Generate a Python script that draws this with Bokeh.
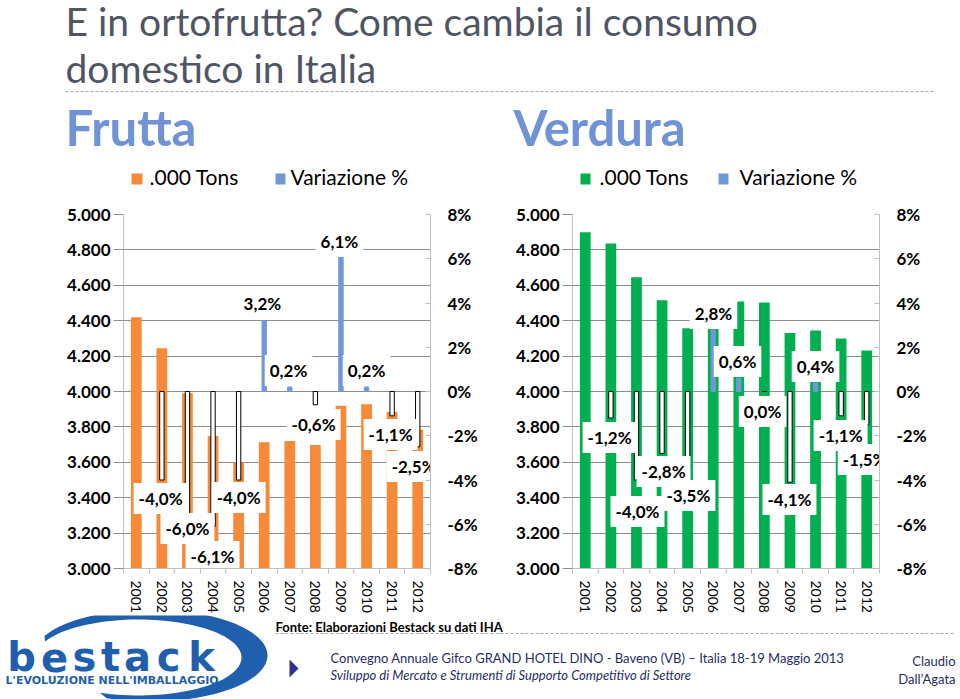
import numpy as np
from bokeh.plotting import figure
from bokeh.models import Range1d, LinearAxis, FixedTicker, ColumnDataSource, Grid
from bokeh.layouts import column, row
from bokeh.embed import file_html
from bokeh.resources import INLINE
from bokeh.core.properties import value

# ---------------- data ----------------
years = ["2001", "2002", "2003", "2004", "2005", "2006",
         "2007", "2008", "2009", "2010", "2011", "2012"]
frutta_tons = [4420, 4245, 3990, 3748, 3598, 3713, 3720, 3698, 3920, 3928, 3885, 3785]
frutta_pct = [None, -4.0, -6.0, -6.1, -4.0, 3.2, 0.2, -0.6, 6.1, 0.2, -1.1, -2.5]
verdura_tons = [4900, 4836, 4645, 4515, 4357, 4367, 4508, 4503, 4330, 4345, 4300, 4232]
verdura_pct = [None, -1.2, -4.0, -2.8, -3.5, 2.8, 0.6, 0.0, -4.1, 0.4, -1.1, -1.5]

tons_ticks = [3000, 3200, 3400, 3600, 3800, 4000, 4200, 4400, 4600, 4800, 5000]
tons_tick_labels = ["3.000", "3.200", "3.400", "3.600", "3.800", "4.000",
                    "4.200", "4.400", "4.600", "4.800", "5.000"]
pct_ticks = [-8, -6, -4, -2, 0, 2, 4, 6, 8]
pct_tick_labels = ["-8%", "-6%", "-4%", "-2%", "0%", "2%", "4%", "6%", "8%"]

# data-label placement (secondary-axis units / category offsets)
frutta_lbl_dx = [0, -0.05, 0.0, -0.02, 0.0, -0.07, -0.05, -0.07, -0.06, 0.0, -0.06, -0.16]
frutta_lbl_y = [None, -4.84, -6.19, -7.46, -4.79, 3.98, 0.95, -1.49, 6.78, 0.95, -1.94, -3.39]
verdura_lbl_dx = [0, -0.05, 0.04, 0.06, 0.03, 0.01, -0.05, -0.07, -0.02, 0.0, -0.02, -0.08]
verdura_lbl_y = [None, -2.08, -5.42, -3.62, -4.70, 3.53, 1.36, -0.90, -4.88, 1.13, -1.99, -3.07]

# ---------------- styles ----------------
FONT = "Lato"
GRID = "#8c8c8c"
AXIS = "#bfbfbf"
ORANGE = "#F68A38"
GREEN = "#00B050"
BLUE = "#7097D8"
TITLE_BLUE = "#6F93D6"


def fmt_pct(v):
    return ("%.1f%%" % v).replace(".", ",")


def chart(tons, pct, lbl_dx, lbl_y, bar_color, b_left, b_right):
    p = figure(width=480, height=420, x_range=Range1d(-0.5, 11.5),
               y_range=Range1d(3000, 5000), output_backend="svg", title=None,
               toolbar_location=None, x_axis_location=None, y_axis_location=None,
               min_border_left=b_left, min_border_right=b_right,
               min_border_top=19, min_border_bottom=47,
               outline_line_color=None, border_fill_color="white",
               background_fill_color="white")
    p.extra_y_ranges = {"pct": Range1d(-8, 8)}
    p.center = [r for r in p.center if not isinstance(r, Grid)]
    p.add_layout(Grid(dimension=1, ticker=FixedTicker(ticks=tons_ticks),
                      grid_line_color=GRID, grid_line_width=1))

    yl = LinearAxis(ticker=FixedTicker(ticks=tons_ticks),
                    major_label_overrides=dict(zip(tons_ticks, tons_tick_labels)),
                    axis_line_color=AXIS, major_tick_line_color=GRID,
                    major_tick_out=10, major_tick_in=0, minor_tick_line_color=None,
                    major_label_standoff=3, major_label_text_font=FONT,
                    major_label_text_font_style="bold",
                    major_label_text_font_size="17px", major_label_text_color="black")
    p.add_layout(yl, "left")

    yr = LinearAxis(y_range_name="pct", ticker=FixedTicker(ticks=pct_ticks),
                    major_label_overrides=dict(zip(pct_ticks, pct_tick_labels)),
                    axis_line_color=AXIS, major_tick_line_color=AXIS,
                    major_tick_out=0, major_tick_in=5, minor_tick_line_color=None,
                    major_label_standoff=17, major_label_text_font=FONT,
                    major_label_text_font_style="bold",
                    major_label_text_font_size="17px", major_label_text_color="black")
    p.add_layout(yr, "right")

    cats = list(range(len(years)))
    xb = LinearAxis(ticker=FixedTicker(ticks=cats, minor_ticks=[c - 0.5 for c in cats] + [11.5]),
                    major_label_overrides=dict(zip(cats, years)),
                    major_label_orientation="vertical",
                    axis_line_color=AXIS, major_tick_line_color=None,
                    major_tick_out=0, major_tick_in=0,
                    minor_tick_line_color=AXIS, minor_tick_out=5, minor_tick_in=0,
                    major_label_standoff=7, major_label_text_font=FONT,
                    major_label_text_font_size="14px", major_label_text_color="black")
    p.add_layout(xb, "below")

    src = ColumnDataSource(dict(x=cats, top=tons))
    p.vbar(x="x", top="top", bottom=3000, width=0.42, source=src,
           fill_color=bar_color, line_color=None)

    idx = [i for i, v in enumerate(pct) if v is not None]
    pv = [pct[i] for i in idx]
    psrc = ColumnDataSource(dict(
        x=idx, top=pv,
        fill=[BLUE if v > 0 else "white" for v in pv],
        line=[BLUE if v > 0 else "black" for v in pv]))
    p.vbar(x="x", top="top", bottom=0, width=0.17, source=psrc,
           y_range_name="pct", fill_color="fill", line_color="line", line_width=1)

    lsrc = ColumnDataSource(dict(
        x=[i + lbl_dx[i] for i in idx], y=[lbl_y[i] for i in idx],
        t=[fmt_pct(pct[i]) for i in idx]))
    p.text(x="x", y="y", text="t", source=lsrc, y_range_name="pct",
           text_align="center", text_baseline="middle", text_font=value(FONT),
           text_font_style="bold", text_font_size="17px", text_color="black",
           background_fill_color="white", padding=5)
    return p


left = chart(frutta_tons, frutta_pct, frutta_lbl_dx, frutta_lbl_y, ORANGE, 123, 50)
right = chart(verdura_tons, verdura_pct, verdura_lbl_dx, verdura_lbl_y, GREEN, 92, 81)


def canvas(h, y0, y1):
    c = figure(width=960, height=h, x_range=Range1d(0, 960), y_range=Range1d(y1, y0),
               output_backend="svg", toolbar_location=None, title=None,
               x_axis_location=None, y_axis_location=None,
               min_border=0, outline_line_color=None,
               border_fill_color="white", background_fill_color="white")
    c.center = [r for r in c.center if not isinstance(r, Grid)]
    return c


def txt(c, xs, ys, texts, size, font=FONT, style="normal", color="black", align="left"):
    # ys are desired alphabetic baselines; shift to compensate renderer offset
    c.text(x=xs, y=[y - 0.43 * size for y in ys], text=texts,
           text_font=value(font), text_font_style=style,
           text_font_size="%dpx" % size, text_color=color,
           text_align=align, text_baseline="alphabetic")


# ---------------- header ----------------
head = canvas(195, 0, 195)
txt(head, [65, 65], [37, 84],
    ["E in ortofrutta? Come cambia il consumo", "domestico in Italia"],
    39, color="#4f5563")
head.line(x=[65, 935], y=[91, 91], line_color="#a8a8a8", line_dash="3 2", line_width=1)
txt(head, [65, 513], [148, 148], ["Frutta", "Verdura"], 49, style="bold", color=TITLE_BLUE)
# legends
head.quad(left=[131, 275, 580, 718], right=[142, 285, 590, 728],
          top=[173, 173, 173, 173], bottom=[184, 184, 184, 184],
          fill_color=[ORANGE, BLUE, GREEN, BLUE], line_color=None)
txt(head, [149, 290, 599, 739], [185, 185, 185, 185],
    [".000 Tons", "Variazione %", ".000 Tons", "Variazione %"], 21)

# ---------------- footer ----------------
foot = canvas(84, 615, 699)
LOGO = "#1F5FAE"
t = np.linspace(np.radians(155), np.radians(-112), 80)
ox = 150 + 117 * np.cos(t)
oy = 655 - 46 * np.sin(t)
ti = t[::-1]
ix = 138 + 103 * np.cos(ti)
iy = 657 - 38 * np.sin(ti)
foot.patch(x=np.concatenate([ox, ix]), y=np.concatenate([oy, iy]),
           fill_color=LOGO, line_color=None)
txt(foot, [21, 54, 84, 110, 137, 168, 201], [674] * 7, list("bestack"), 40,
    font="DejaVu Sans", style="bold", color=LOGO, align="center")
txt(foot, [5], [685], ["L'EVOLUZIONE NELL'IMBALLAGGIO"], 11,
    font="DejaVu Sans", style="bold", color=LOGO)
foot.line(x=[275, 955], y=[633, 633], line_color="#a8a8a8", line_dash="3 2", line_width=1)
txt(foot, [275], [632], ["Fonte: Elaborazioni Bestack su dati IHA"], 13, style="bold")
foot.patch(x=[289, 298, 289], y=[659, 668, 677], fill_color="#2E3192", line_color=None)
txt(foot, [330], [663],
    ["Convegno Annuale Gifco GRAND HOTEL DINO - Baveno (VB) \u2013 Italia 18-19 Maggio 2013"],
    13, color="#1F2D66")
txt(foot, [330], [680],
    ["Sviluppo di Mercato e Strumenti di Supporto Competitivo di Settore"],
    13, style="italic", color="#1F2D66")
txt(foot, [955, 955], [666, 684], ["Claudio", "Dall\u2019Agata"], 13,
    color="#1F2D66", align="right")

layout = column(head, row(left, right, spacing=0), foot, spacing=0)
open("out.html", "w").write(file_html(layout, INLINE))
